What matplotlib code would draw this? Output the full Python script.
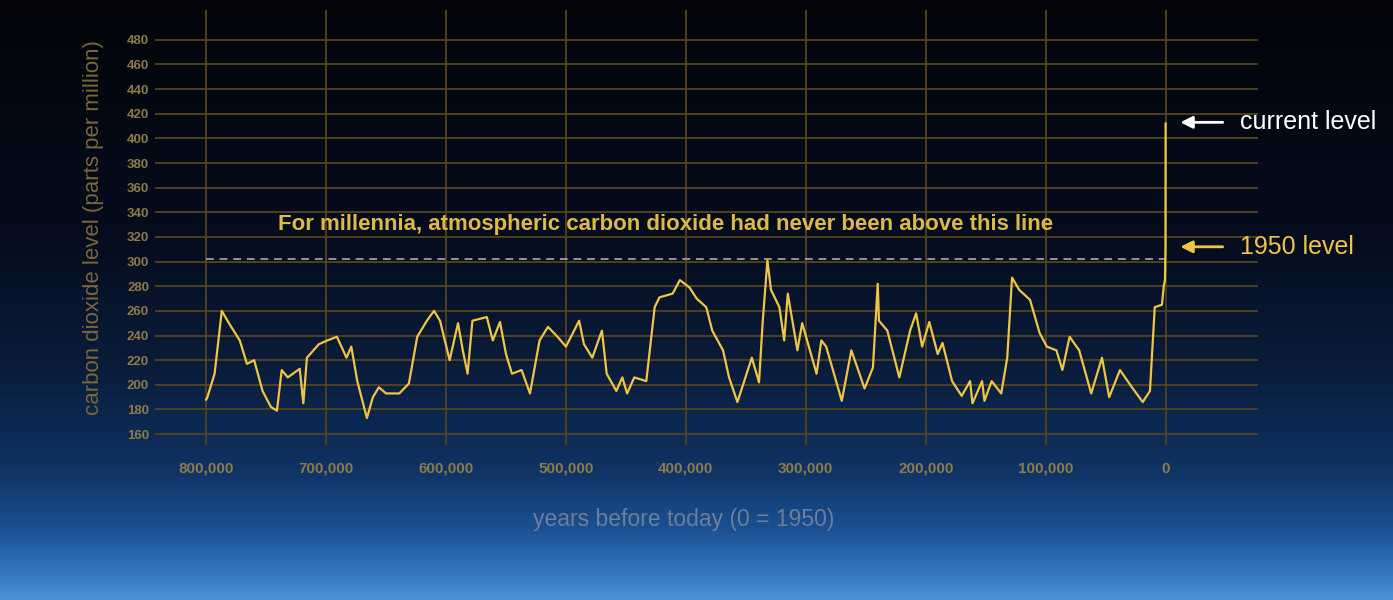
import numpy as np
import matplotlib
matplotlib.use("Agg")
import matplotlib.pyplot as plt
from matplotlib.colors import LinearSegmentedColormap

plt.rcParams['font.family'] = ['Liberation Sans', 'DejaVu Sans']

years_kyr = [800, 799, 793, 787, 781, 772, 766, 760, 753, 746, 741, 737, 732, 722, 719, 716,
             706, 699, 691, 683, 679, 674, 666, 661, 656, 650, 639, 631, 624, 616, 610, 605,
             597, 590, 586, 582, 578, 566, 561, 555, 550, 545, 537, 530, 522, 515, 507, 500,
             489, 485, 478, 470, 466, 458, 453, 449, 443, 433, 426, 422, 411, 405, 397, 391,
             383, 378, 369, 364, 357, 345, 339, 336, 332, 329, 322, 318, 315, 307, 303, 291,
             287, 283, 270, 262, 251, 244, 240, 239, 232, 222, 213, 208, 203, 197, 190, 186,
             178, 170, 163, 161, 153, 151, 145, 137, 132, 128, 122, 113, 105, 99, 91, 86,
             80, 72, 62, 53, 47, 38, 28, 19, 13, 9, 3, 1.5, 0.5, 0.07, -0.07]
co2_ppm = [188, 190, 209, 260, 250, 236, 217, 220, 195, 182, 179, 212, 206, 213, 185, 222,
           233, 236, 239, 222, 231, 203, 173, 190, 198, 193, 193, 201, 239, 252, 260, 252,
           220, 250, 228, 209, 252, 255, 236, 251, 225, 209, 212, 193, 236, 247, 239, 231,
           252, 233, 222, 244, 209, 195, 206, 193, 206, 203, 263, 271, 274, 285, 279, 270,
           263, 244, 228, 206, 186, 222, 202, 250, 301, 277, 263, 236, 274, 228, 250, 209,
           236, 231, 187, 228, 197, 214, 282, 252, 244, 206, 244, 258, 231, 251, 225, 234,
           203, 191, 203, 185, 203, 187, 203, 193, 222, 287, 277, 269, 242, 231, 228, 212,
           239, 228, 193, 222, 190, 212, 198, 186, 195, 263, 265, 280, 285, 310, 412]

xticks_kyr = [800, 700, 600, 500, 400, 300, 200, 100, 0]
xtick_labels = ['800,000', '700,000', '600,000', '500,000', '400,000', '300,000', '200,000', '100,000', '0']
yticks = list(range(160, 481, 20))

fig = plt.figure(figsize=(13.93, 6.0), dpi=100)

bg = fig.add_axes([0, 0, 1, 1], zorder=-10)
bg.set_axis_off()
cmap = LinearSegmentedColormap.from_list('sky', [
    (0.0, '#4a92d4'), (0.04, '#3478c0'), (0.12, '#1a4f90'), (0.22, '#0f3262'),
    (0.38, '#0a1d3c'), (0.60, '#050d1e'), (1.0, '#020409')])
grad = np.linspace(0, 1, 600).reshape(-1, 1)
bg.imshow(grad, aspect='auto', cmap=cmap, origin='lower', extent=[0, 1, 0, 1])
bg.set_xlim(0, 1); bg.set_ylim(0, 1)

ax = fig.add_axes([0.111, 0.258, 0.792, 0.725])
ax.patch.set_alpha(0)
for s in ax.spines.values():
    s.set_visible(False)

grid_c = '#54441e'
ax.set_xlim(843, -77)
ax.set_ylim(151, 504)
ax.set_yticks(yticks)
ax.set_xticks(xticks_kyr)
ax.set_xticklabels(xtick_labels)
ax.grid(True, color=grid_c, lw=1.3)
ax.set_axisbelow(True)
ax.tick_params(length=0, colors='#8c7a48', labelsize=9.5)
ax.tick_params(axis='x', labelsize=11, pad=12)
ax.tick_params(axis='y', pad=4)
for t in ax.get_xticklabels() + ax.get_yticklabels():
    t.set_fontweight('bold')

ax.plot(years_kyr, co2_ppm, color='#f0c445', lw=1.6, zorder=3)
ax.plot([800, 0], [302, 302], color='#9a9488', lw=1.4, ls=(0, (4, 3)), zorder=2)

ax.text(740, 330, 'For millennia, atmospheric carbon dioxide had never been above this line',
        color='#e0b845', fontsize=16, fontweight='semibold', va='center', ha='left')

ax.set_ylabel('carbon dioxide level (parts per million)', color='#7a6638', fontsize=16, labelpad=16)
ax.set_xlabel('years before today (0 = 1950)', color='#6e7d98', fontsize=16.5)
ax.xaxis.set_label_coords(0.48, -0.145)

ax.annotate('', xy=(-10, 413), xytext=(-50, 413),
            arrowprops=dict(arrowstyle='-|>', color='white', lw=2, mutation_scale=18),
            annotation_clip=False)
ax.text(-62, 413, 'current level', color='white', fontsize=18, va='center', ha='left', clip_on=False)
ax.annotate('', xy=(-10, 312), xytext=(-50, 312),
            arrowprops=dict(arrowstyle='-|>', color='#f0c445', lw=2, mutation_scale=18),
            annotation_clip=False)
ax.text(-62, 312, '1950 level', color='#f0c445', fontsize=18, va='center', ha='left', clip_on=False)

fig.savefig('out.png', dpi=100)
